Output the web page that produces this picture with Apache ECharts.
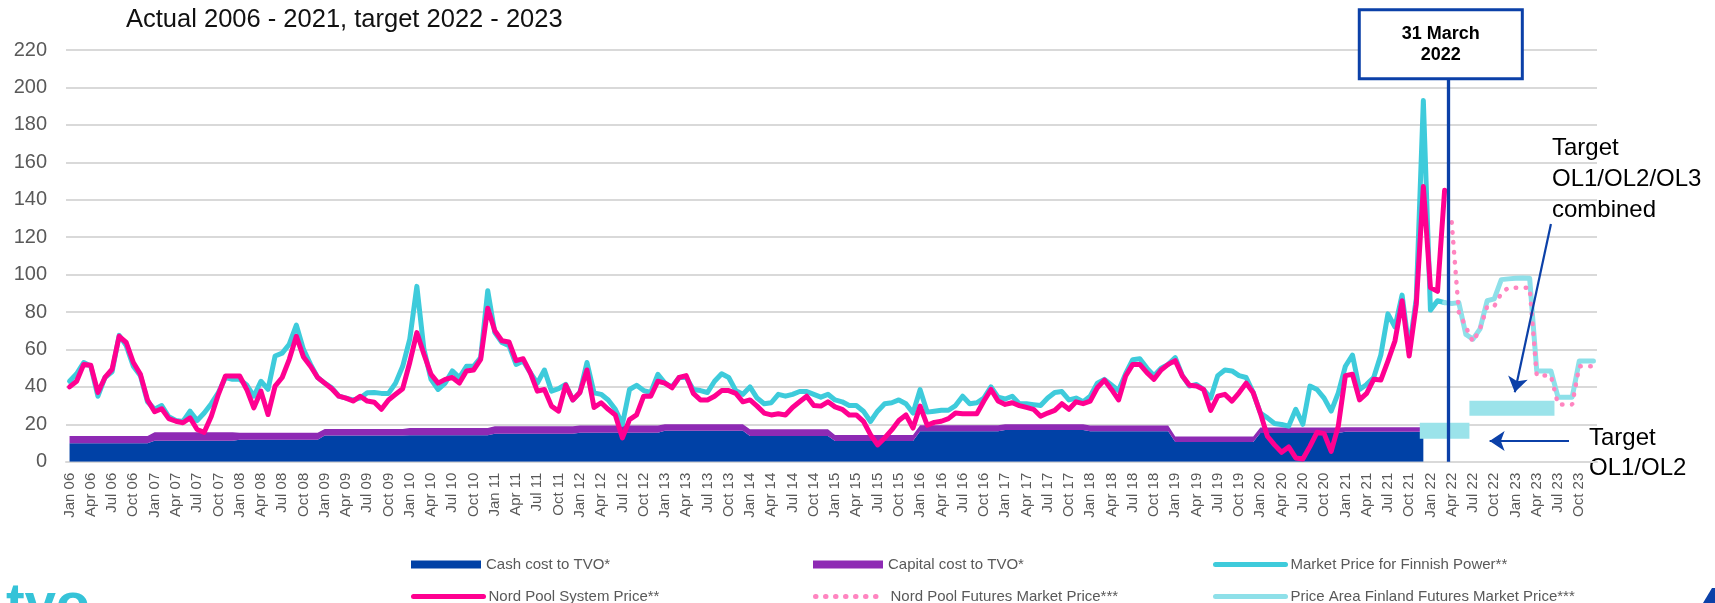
<!DOCTYPE html>
<html><head><meta charset="utf-8">
<script src="https://cdn.jsdelivr.net/npm/echarts/dist/echarts.min.js"></script>
<style>html,body{margin:0;padding:0;background:#fff}#c{width:1715px;height:603px}</style>
</head><body><div id="c"></div>
<script>
// ---------- data ----------
const monthNames = ['Jan','Feb','Mar','Apr','May','Jun','Jul','Aug','Sep','Oct','Nov','Dec'];
const yearLabels = ['06','07','08','09','10','11','12','13','14','15','16','17','18','19','20','21','22','23'];
const titleText = 'Actual 2006 - 2021, target 2022 - 2023';

// yearly cost levels 2006..2021 (EUR/MWh)
const cashCostByYear    = [9.8, 11.2, 11.7, 14.0, 14.2, 15.0, 15.5, 16.6, 13.7, 11.0, 16.3, 17.0, 16.3, 10.5, 15.3, 16.0];
const capitalCostByYear = [3.9, 4.5, 3.8, 3.5, 3.8, 4.0, 3.8, 3.4, 3.6, 3.3, 3.2, 3.0, 3.0, 3.0, 3.0, 2.4];

// monthly, Jan 06 .. Mar 22
const marketPriceFinland = [
 43,47,53,51,35,45,48,67.5,62,51,46,32,
 28,30,24,22,21.5,27,22,26,31,37,45,44,
 44,41,35,43,38.6,56.5,58,62.8,73,60,52,45,
 42,39.5,35,34,33,34,36.8,37,36.5,36.5,42,51,
 65.5,93.7,60,44,38.6,42,48.5,45,51,51,55.6,91.4,
 69,63.7,62,52,53.8,47.6,42,49,37.7,39,41.3,33,
 37,53,36.8,36,33,28,20,38.6,40.8,38,37,46.7,
 42,40,45,45,38.6,38,37,43,47,45,38,36,
 40,34,31,31.5,36,35,36,37.5,37.5,36,34.5,36,
 33,32,30,30,27,21.5,27,31,31.5,33,31,26,
 38.5,26.5,27,27.5,27.5,30,35,31,31.5,34,40,34.5,
 33.5,35,31,31,30.5,30,34,37,37.5,33,34,32,
 35,42,44,41,38,47,54.5,55,50,46,50,52,
 55.6,46,40.4,41.3,38.6,34,46,49,48.5,46,45,37,
 26,23.4,20.4,19.9,19,28,20,40.4,38.6,34,27,36.8,
 51,57,38.6,41.3,45,57,79,72,89,60,87,193,
 81,86,85
];
const nordPoolSystem = [
 40,43,52,51.5,37,45,49.4,67,63.7,53,46.7,33,
 26.7,28.3,23,21.6,20.8,23.4,17.2,15.7,24.3,36,45.8,45.8,
 45.8,38.6,28.8,37.7,25.2,40.4,45,54.7,67,56,51,45,
 42,39,35,34,32.4,35,32.4,31.8,28,33,36,39,
 53,69,57.4,46.7,42,44,45,42,48.5,49,54.7,82,
 70,64.6,64,54,55,47.6,37.7,38.6,29.7,27,41,33,
 37,49,29,31.5,28,25,12.7,22.5,25,35,35,43,
 42,39.5,45,46,36.5,33,33,35,38,38,36.5,32,
 33,29.7,26,25,25.6,25,29,32,35,30,29.7,32,
 29.3,28,25,25,21.6,14.5,9,12.7,17,22,25,18,
 29.7,19.5,21,21.6,23,26,25.6,25.6,25.6,32.4,38.6,32.4,
 30.6,31.5,30,29,28,24.3,26,27.4,31,28,32,31,
 32.4,39.5,43.6,38.6,33,45.8,52,52,47.6,44,49,52,
 54,45.8,40.8,40.4,38.6,27.4,35,36,32.4,36.8,42,36.8,
 26,13.6,9,5,7.9,2,1.4,8.2,15.7,15,5.5,19,
 46,46.7,33,36.5,44,43.6,53.8,64.6,86,56.5,84,147,
 93,91,145
];
// futures, Apr 22 .. Dec 23
const nordPoolFutures = [128,80,72,64,71,83,83,90,93,93,93,93,46,46,46,30.6,30.6,30.6,51,51,51];
// futures, Mar 22 .. Dec 23
const finlandFutures = [85,84.5,85,68,65.5,71,86,87,97.3,97.7,98,98.2,98,48.5,48.5,48.5,34.5,34.5,34.5,53.8,53.8,53.8];

const targetOL12  = {from: 'Dec 21', to: 'Jun 22', value: 16.5};
const targetOL123 = {from: 'Jul 22', to: 'Jun 23', value: 28.5};
const cutoff = {month: 'Mar 22', label: '31 March\n2022'};

// ---------- build ----------
const categories = [];
yearLabels.forEach(y => monthNames.forEach(m => categories.push(m + ' ' + y)));
const N = categories.length;
function expandYears(arr){ const out=[]; arr.forEach(v=>{ for(let k=0;k<12;k++) out.push(v); }); return out; }
function placeAt(arr, start){ const out = new Array(N).fill(null); arr.forEach((v,i)=>{ out[start+i]=v; }); return out; }
const idx = name => categories.indexOf(name);

const BLUE_ANN = '#0B40A8';
const FONT = '"Liberation Sans", Arial, sans-serif';
const cutX = idx(cutoff.month) + 0.45;

function legendItem(name, left, top, isArea){
  return {left: left, top: top, padding: 0, itemWidth: 70, itemHeight: 8, itemGap: 0,
    textStyle: {fontSize: 15, color: '#595959', fontFamily: FONT}, lineStyle: {width: 5},
    data: [isArea ? {name: name, icon: 'rect'} : {name: name, itemStyle: {opacity: 0}}]};
}

const option = {
  animation: false,
  textStyle: {fontFamily: FONT},
  title: {text: titleText, left: 121, top: 2, textStyle: {fontSize: 25.5, fontWeight: 'normal', color: '#111', fontFamily: FONT}},
  grid: {left: 66, right: 118, top: 50, bottom: 141.3, containLabel: false, outerBoundsMode: 'none'},
  xAxis: [
    {type: 'category', data: categories, boundaryGap: true,
     axisLine: {show: true, lineStyle: {color: '#D9D9D9', width: 2}},
     axisTick: {show: false},
     axisLabel: {interval: 2, rotate: 90, fontSize: 15, color: '#595959', margin: 11, fontFamily: FONT},
     splitLine: {show: false}},
    {type: 'value', min: -0.5, max: N - 0.5, show: false}
  ],
  yAxis: {type: 'value', min: 0, max: 220, interval: 20,
    axisLabel: {fontSize: 20, color: '#595959', margin: 19, fontFamily: FONT},
    splitLine: {lineStyle: {color: '#D9D9D9', width: 2}},
    axisLine: {show: false}, axisTick: {show: false}},
  legend: [
    legendItem('Cash cost to TVO*', 411, 557, true),
    legendItem('Nord Pool System Price**', 411, 589, false),
    legendItem('Capital cost to TVO*', 813, 557, true),
    legendItem('Nord Pool Futures Market Price***', 813, 589, false),
    legendItem('Market Price for Finnish Power**', 1213, 557, false),
    legendItem('Price Area Finland Futures Market Price***', 1213, 589, false)
  ],
  series: [
    {name: 'Cash cost to TVO*', type: 'line', stack: 'cost', data: expandYears(cashCostByYear),
     symbol: 'none', color: '#0041A6', lineStyle: {width: 0}, areaStyle: {color: '#0041A6', opacity: 1}, z: 2},
    {name: 'Capital cost to TVO*', type: 'line', stack: 'cost', data: expandYears(capitalCostByYear),
     symbol: 'none', color: '#8E2AB4', lineStyle: {width: 0}, areaStyle: {color: '#8E2AB4', opacity: 1}, z: 2},
    {name: 'Market Price for Finnish Power**', type: 'line', data: marketPriceFinland, symbol: 'none', color: '#3ECBDB',
     lineStyle: {width: 5, color: '#3ECBDB', join: 'round', cap: 'round'}, z: 3},
    {name: 'Nord Pool System Price**', type: 'line', data: nordPoolSystem, symbol: 'none', color: '#FF0090',
     lineStyle: {width: 5, color: '#FF0090', join: 'round', cap: 'round'}, z: 4},
    {name: 'Price Area Finland Futures Market Price***', type: 'line', data: placeAt(finlandFutures, idx('Mar 22')),
     symbol: 'none', color: '#8EE0E9', lineStyle: {width: 5, color: '#8EE0E9', join: 'round', cap: 'round'}, z: 4},
    {name: 'Nord Pool Futures Market Price***', type: 'line', data: placeAt(nordPoolFutures, idx('Apr 22')),
     symbol: 'none', color: '#FF85C0', lineStyle: {width: 4.5, color: '#FF85C0', type: [0.5, 9.5], cap: 'round'}, z: 5},
    {name: 'targetOL12', type: 'line', xAxisIndex: 1, yAxisIndex: 0, symbol: 'none', silent: true,
     data: [[idx(targetOL12.from) - 0.5, targetOL12.value], [idx(targetOL12.to) + 0.5, targetOL12.value]],
     lineStyle: {width: 16, color: '#9BE3EA', cap: 'butt'}, z: 6,
     markLine: {silent: true, animation: false, z: 8,
       data: [[
         {coord: [cutX, 0], symbol: 'none', lineStyle: {color: BLUE_ANN, width: 3.3, type: 'solid'},
          label: {show: true, position: 'end', distance: 0, offset: [-7, 0], formatter: cutoff.label,
                  fontSize: 18, fontWeight: 'bold', color: '#000', lineHeight: 21, fontFamily: FONT,
                  backgroundColor: '#fff', borderColor: BLUE_ANN, borderWidth: 3, padding: [12, 41]}},
         {coord: [cutX, 205.5], symbol: 'none'}
       ]]}},
    {name: 'targetOL123', type: 'line', xAxisIndex: 1, yAxisIndex: 0, symbol: 'none', silent: true,
     data: [[idx(targetOL123.from) - 0.5, targetOL123.value], [idx(targetOL123.to) + 0.5, targetOL123.value]],
     lineStyle: {width: 15, color: '#9BE3EA', cap: 'butt'}, z: 6,
     markLine: {silent: true, animation: false, z: 8, symbolSize: 15,
       label: {show: false},
       lineStyle: {color: BLUE_ANN, width: 2.2, type: 'solid'},
       data: [
         [{coord: [209.0, 127], symbol: 'none'}, {coord: [203.9, 37.1], symbol: 'arrow'}],
         [{coord: [211.55, 11.06], symbol: 'none'}, {coord: [200.35, 11.06], symbol: 'arrow'}]
       ]}}
  ],
  graphic: [
    {type: 'text', left: 1552, top: 133, silent: true,
     style: {text: 'Target\nOL1/OL2/OL3\ncombined', fill: '#000', font: '24px ' + FONT, lineHeight: 31}},
    {type: 'text', left: 1589, top: 423, silent: true,
     style: {text: 'Target\nOL1/OL2', fill: '#000', font: '24px ' + FONT, lineHeight: 30}},
    {type: 'text', left: 6, top: 579, silent: true,
     style: {text: 'tvo', fill: '#35C3D8', font: 'bold 56px ' + FONT}},
    {type: 'polygon', silent: true,
     shape: {points: [[1703, 603], [1712, 588], [1715, 588], [1715, 603]]},
     style: {fill: '#0B40A8'}}
  ]
};
const chart = echarts.init(document.getElementById('c'), null, {renderer: 'canvas'});
chart.setOption(option);
</script>
</body></html>
